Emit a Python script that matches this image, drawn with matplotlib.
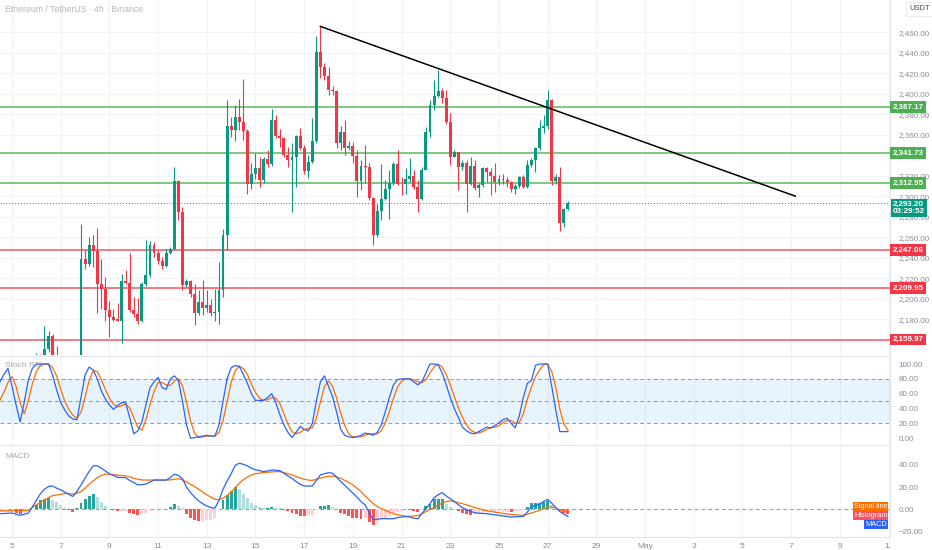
import numpy as np
import matplotlib
matplotlib.use('Agg')
import matplotlib.pyplot as plt
from matplotlib.transforms import Bbox, blended_transform_factory

plt.rcParams['font.family'] = ['Liberation Sans', 'DejaVu Sans']

# 4h candles ETH/USDT, first candle on day 4.5 (4 Apr 12:00)
first_day = 4.5

opens = [2118, 2125, 2120, 2128, 2122, 2116, 2125, 2134, 2128, 2136,
         2145, 2140, 2151.1, 2163.9, 2136, 2130, 2124, 2131, 2127, 2134,
         2140, 2238.9, 2234.0, 2252.6, 2246.4, 2214.4, 2208.9, 2189.0, 2181.8, 2180.0,
         2178.5, 2216.7, 2215.0, 2189.0, 2185.1, 2177.9, 2214.4, 2223.3, 2252.6, 2244.8,
         2236.3, 2231.7, 2244.8, 2248.7, 2314.6, 2284.6, 2212.8, 2216.7, 2204.0, 2185.7,
         2196.5, 2191.0, 2194.0, 2185.7, 2186.7, 2207.9, 2261.8, 2368.5, 2364.5, 2376.9,
         2372.7, 2363.9, 2312.3, 2322.1, 2327.0, 2315.6, 2336.2, 2331.3, 2374.0, 2358.7,
         2356.4, 2340.1, 2335.2, 2338.4, 2358.7, 2346.6, 2324.7, 2333.5, 2354.1, 2441.2,
         2426.5, 2417.4, 2403.7, 2403.0, 2351.5, 2362.9, 2347.2, 2349.2, 2339.1, 2314.6,
         2329.6, 2328.6, 2298.3, 2261.8, 2285.6, 2297.6, 2307.4, 2313.0, 2330.9, 2312.3,
         2311.4, 2317.2, 2319.8, 2309.1, 2297.0, 2326.0, 2362.3, 2389.0, 2397.8, 2402.7,
         2396.2, 2372.7, 2338.4, 2342.7, 2328.6, 2332.6, 2311.7, 2329.6, 2308.4, 2310.7,
         2327.0, 2323.1, 2319.8, 2313.9, 2317.2, 2315.6, 2313.9, 2307.4, 2309.7, 2318.2,
         2309.1, 2330.3, 2335.2, 2346.6, 2366.2, 2368.5, 2393.9, 2314.6, 2318.9, 2273.8,
         2287.9]
highs = [2130, 2136, 2132, 2140, 2131, 2128, 2138, 2141, 2140, 2147,
         2146, 2173.6, 2168.8, 2165.5, 2154, 2141, 2135, 2142, 2138, 2143,
         2272.5, 2247.1, 2260.1, 2261.8, 2268.9, 2238.9, 2221.0, 2198.0, 2190.0, 2196.0,
         2224.0, 2228.0, 2244.0, 2202.0, 2201.0, 2216.0, 2256.9, 2256.0, 2255.0, 2247.1,
         2240.5, 2248.7, 2250.5, 2328.6, 2315.6, 2289.5, 2219.3, 2218.3, 2214.4, 2207.9,
         2217.7, 2207.9, 2200.0, 2209.0, 2235.7, 2268.3, 2393.9, 2376.9, 2389.0, 2394.9,
         2414.5, 2366.0, 2331.9, 2341.7, 2338.4, 2338.4, 2345.0, 2385.0, 2379.0, 2366.0,
         2358.0, 2348.0, 2351.8, 2360.0, 2366.5, 2350.0, 2340.0, 2376.0, 2455.9, 2465.7,
         2429.8, 2426.5, 2408.0, 2403.7, 2368.5, 2374.3, 2354.0, 2353.0, 2345.0, 2335.0,
         2349.9, 2331.9, 2299.3, 2292.7, 2331.0, 2315.6, 2325.4, 2332.9, 2345.0, 2318.8,
         2327.0, 2336.8, 2326.0, 2315.6, 2328.6, 2367.8, 2393.9, 2413.5, 2423.3, 2405.3,
         2403.7, 2380.9, 2345.0, 2343.3, 2335.2, 2335.2, 2338.4, 2335.2, 2313.0, 2328.6,
         2328.6, 2327.0, 2331.9, 2321.0, 2322.0, 2319.0, 2315.0, 2312.0, 2319.5, 2321.0,
         2335.2, 2337.5, 2348.2, 2374.3, 2379.2, 2403.7, 2394.5, 2322.1, 2328.6, 2288.0,
         2295.5]
lows = [2108, 2115, 2105, 2118, 2110, 2108, 2120, 2122, 2124, 2130,
        2128, 2136, 2148, 2128, 2122, 2118, 2112, 2122, 2120, 2128,
        2136, 2229.1, 2232.0, 2230.7, 2186.0, 2190.0, 2178.5, 2162.0, 2178.5, 2178.0,
        2157.0, 2214.0, 2187.0, 2182.0, 2175.3, 2177.0, 2212.0, 2221.0, 2240.5, 2234.0,
        2229.0, 2230.7, 2243.5, 2247.0, 2276.4, 2207.9, 2211.0, 2201.4, 2174.6, 2183.5,
        2183.5, 2187.0, 2182.5, 2178.5, 2175.3, 2201.4, 2247.0, 2358.0, 2354.0, 2364.5,
        2354.7, 2302.5, 2307.4, 2317.2, 2309.1, 2313.0, 2328.0, 2329.0, 2357.0, 2348.0,
        2338.0, 2328.0, 2284.6, 2309.0, 2345.0, 2322.0, 2318.0, 2332.0, 2351.5, 2415.0,
        2413.5, 2398.8, 2399.0, 2346.6, 2345.0, 2340.1, 2345.0, 2331.9, 2299.0, 2305.8,
        2313.0, 2296.0, 2252.0, 2260.1, 2276.4, 2296.0, 2278.0, 2310.7, 2310.7, 2300.9,
        2302.5, 2314.0, 2307.4, 2284.6, 2296.0, 2325.4, 2358.0, 2384.0, 2396.5, 2390.7,
        2370.4, 2330.2, 2338.0, 2305.8, 2325.4, 2284.6, 2310.7, 2305.8, 2299.3, 2309.1,
        2314.0, 2300.9, 2304.2, 2311.0, 2312.0, 2309.0, 2304.0, 2302.0, 2308.0, 2308.0,
        2308.4, 2328.6, 2323.8, 2345.0, 2361.3, 2366.0, 2310.7, 2312.3, 2266.0, 2269.7,
        2286.9]
closes = [2125, 2120, 2128, 2122, 2116, 2125, 2134, 2128, 2136, 2145,
          2140, 2151.1, 2163.9, 2136, 2130, 2124, 2131, 2127, 2134, 2140,
          2238.9, 2234.0, 2252.6, 2246.4, 2214.4, 2208.9, 2189.0, 2181.8, 2179.5, 2178.5,
          2216.7, 2215.0, 2189.0, 2185.1, 2177.9, 2214.4, 2223.3, 2252.6, 2244.8, 2236.3,
          2231.7, 2244.8, 2248.7, 2314.6, 2284.6, 2212.8, 2216.7, 2204.0, 2185.7, 2196.5,
          2191.0, 2194.0, 2185.7, 2186.7, 2207.9, 2261.8, 2368.5, 2364.5, 2376.9, 2372.7,
          2363.9, 2312.3, 2322.1, 2327.0, 2315.6, 2336.2, 2331.3, 2374.0, 2358.7, 2356.4,
          2340.1, 2335.2, 2338.4, 2358.7, 2346.6, 2324.7, 2333.5, 2354.1, 2441.2, 2426.5,
          2417.4, 2403.7, 2403.0, 2351.5, 2362.9, 2347.2, 2349.2, 2339.1, 2314.6, 2329.6,
          2328.6, 2298.3, 2261.8, 2285.6, 2297.6, 2307.4, 2313.0, 2330.9, 2312.3, 2311.4,
          2317.2, 2319.8, 2309.1, 2297.0, 2326.0, 2362.3, 2389.0, 2397.8, 2402.7, 2396.2,
          2372.7, 2338.4, 2342.7, 2328.6, 2332.6, 2311.7, 2329.6, 2308.4, 2310.7, 2327.0,
          2323.1, 2319.8, 2313.9, 2317.2, 2315.6, 2313.9, 2307.4, 2309.7, 2318.2, 2309.1,
          2330.3, 2335.2, 2346.6, 2366.2, 2368.5, 2393.9, 2314.6, 2318.9, 2273.8, 2287.9,
          2293.2]

# Stoch RSI (K azul, D naranja)
stoch_k = [76, 86, 94, 70, 45, 22, 48, 78, 94, 100,
           100, 100, 100, 85, 65, 48, 38, 30, 26, 25,
           55, 85, 96, 92, 80, 64, 53, 45, 39, 44,
           48, 48, 28, 6, 10, 22, 45, 68, 76, 82,
           68, 66, 80, 84, 78, 50, 18, 0, 1, 2,
           3, 4, 3, 3, 18, 50, 80, 95, 98, 97,
           86, 74, 60, 51, 51, 51, 55, 60, 48, 32,
           18, 8, 1, 8, 16, 12, 10, 20, 50, 76,
           84, 70, 56, 35, 12, 4, 2, 1, 2, 4,
           7, 6, 4, 8, 18, 36, 55, 72, 79, 80,
           80, 80, 76, 72, 76, 88, 100, 100, 99, 88,
           72, 55, 40, 28, 15, 10, 7, 6, 9, 12,
           15, 14, 17, 21, 25, 27, 20, 14, 30, 55,
           74, 78, 98, 100, 100, 100, 70, 38, 9, 9,
           9]
stoch_d = [51, 62, 75, 83, 70, 48, 33, 50, 73, 90,
           98, 100, 100, 95, 84, 66, 50, 39, 31, 27,
           35, 55, 78, 91, 90, 79, 66, 54, 46, 42,
           44, 46, 41, 28, 15, 11, 25, 45, 63, 75,
           75, 72, 71, 77, 80, 71, 49, 23, 7, 1,
           2, 3, 3, 3, 8, 24, 49, 75, 91, 97,
           94, 86, 73, 62, 54, 51, 52, 55, 54, 47,
           33, 19, 9, 6, 8, 12, 13, 14, 27, 49,
           70, 77, 70, 54, 34, 17, 6, 2, 2, 2,
           4, 6, 6, 6, 10, 21, 36, 54, 69, 77,
           80, 80, 79, 76, 75, 79, 88, 96, 100, 96,
           86, 72, 56, 41, 28, 18, 11, 8, 7, 9,
           12, 14, 15, 17, 21, 24, 24, 20, 21, 33,
           53, 69, 83, 92, 99, 100, 90, 69, 39, 19,
           11]

# MACD y linea de senal
macd = [-4, -3.8, -3.6, -3.4, -4.5, -5.5, -4.5, -3.5, 2, 8,
        14, 18, 20.5, 21, 19, 17.5, 15.5, 13.5, 11.5, 16,
        21.8, 28, 34, 39, 39.3, 37, 34.5, 32, 30.5, 28.8,
        28.6, 28.4, 26, 24, 22, 22.2, 22.7, 24.5, 26.3, 26.3,
        26.3, 26.3, 28.5, 31.5, 30.5, 27.5, 20, 15, 11, 7.5,
        5, 3, 1.5, 1, 8, 18, 25.5, 32, 39.5, 41.5,
        40.5, 39, 37, 35.5, 34.8, 34, 34.5, 35.3, 35.2, 34.8,
        32.5, 30, 27.8, 25, 22.5, 21, 20.9, 21, 26, 31,
        32, 33, 32.4, 29, 25, 21.5, 18, 14.5, 11, 7,
        4, -3, -9.5, -9, -8.5, -8.5, -8.5, -8.5, -7.5, -7,
        -6.5, -7, -8, -8.5, -4, 0.6, 5, 10.5, 13, 15,
        12, 9.5, 7, 4, 1.5, -0.5, -2, -3, -3.6, -3.8,
        -4, -4.5, -5, -5.5, -6, -6.5, -7, -6.8, -6.6, -6.4,
        -2.5, 2, 3.5, 4.5, 7, 9, 5.5, 1.5, -2, -4.5,
        -6.4]
signal = [-1.5, -1.4, -1.3, -1.2, -1.0, -0.9, -0.9, -0.9, 1.5, 4,
          6, 8.5, 10.5, 12.3, 12.8, 13.5, 14.2, 14, 13.7, 14.5,
          16, 19, 22.5, 25.5, 28.5, 30.5, 31.6, 31.6, 31.1, 30.8,
          30.4, 30, 29, 28, 27, 26.4, 26.3, 26.3, 26.3, 26.3,
          26.3, 26.3, 26.5, 27, 27.6, 26.5, 24.5, 22.5, 20.5, 18,
          15.5, 13, 11, 9, 8.5, 10, 12.3, 15.5, 19.5, 23.5,
          26.5, 29, 31, 32, 32.6, 33.1, 33.4, 33.7, 33.9, 33.9,
          33, 32, 31, 29.5, 28.2, 27, 26.3, 26, 27, 28,
          29, 29.6, 30, 29, 28, 26, 24, 22, 19, 16,
          12, 8.5, 5, 2.5, 0.5, -1, -2.5, -4, -5, -5.7,
          -6.3, -6.3, -6, -5.7, -4, -2, 0, 1.5, 3.5, 5.5,
          7, 7.5, 7, 6, 5, 4, 2.8, 1.5, 0.5, -0.5,
          -1.3, -2, -2.6, -3.2, -3.8, -4.3, -4.7, -5, -5.3, -5.5,
          -4.5, -3.3, -2, -1, 0.5, 2, 2.1, 1, -0.5, -1.5,
          -2.1]

green_levels = [2387.17, 2341.73, 2312.95]
red_levels = [2247.06, 2209.95, 2159.97]
trend_days = [17.667, 37.17]
trend_prices = [2465.7, 2300.0]

tick_days = [5, 7, 9, 11, 13, 15, 17, 19, 21, 23, 25, 27, 29, 31, 33, 35, 37, 39, 41]
tick_labels = ['5', '7', '9', '11', '13', '15', '17', '19', '21', '23', '25', '27',
               '29', 'May', '3', '5', '7', '9', '11']
# 2340 queda tapado por la etiqueta 2,341.73
price_ticks = [2180, 2200, 2220, 2240, 2260, 2280, 2300, 2320, 2360, 2380,
               2400, 2420, 2440, 2460]

GREEN = '#089981'
RED = '#f23645'
GRID = '#f2f3f6'
TXT = '#8a8d96'
SEP = '#e0e3eb'

n = len(closes)
days = first_day + np.arange(n) / 6
o = np.array(opens)
h = np.array(highs)
l = np.array(lows)
c = np.array(closes)

fig = plt.figure(figsize=(9.32, 5.5), dpi=100)
W, H = 932, 550
right = 890 / W
ax = fig.add_axes([0, 1 - 355 / H, right, 355 / H])
ax_s = fig.add_axes([0, 1 - 444 / H, right, 88 / H])
ax_m = fig.add_axes([0, 1 - 537 / H, right, 92 / H])


def base_axes(a):
    a.set_xlim(4.507, 41.06)
    for s in ['left', 'top', 'bottom']:
        a.spines[s].set_visible(False)
    a.spines['right'].set_color(SEP)
    a.spines['right'].set_linewidth(0.8)
    a.yaxis.tick_right()
    a.tick_params(axis='y', length=0, pad=6, labelsize=5.8, labelcolor=TXT)
    a.tick_params(axis='x', length=0)
    for d in tick_days:
        a.axvline(d, color=GRID, lw=0.8, zorder=0)


# panel de precio
base_axes(ax)
ax.set_ylim(2144.9, 2491.5)
ax.set_yticks(price_ticks)
ax.set_yticklabels([f'{p:,.2f}' for p in price_ticks])
ax.set_xticks([])
for p in price_ticks:
    ax.axhline(p, color=GRID, lw=0.8, zorder=0)

colors = np.where(c >= o, GREEN, RED)
ax.vlines(days, l, h, colors=colors, lw=0.8, zorder=3)
ax.bar(days, np.maximum(np.abs(c - o), 0.8), bottom=np.minimum(o, c), width=0.12,
       color=colors, lw=0, zorder=4)

ax.axhline(closes[-1], color=GREEN, lw=0.7, ls=(0, (1, 2)), zorder=2)
for lv in green_levels:
    ax.axhline(lv, color='#5cb860', lw=1.1, zorder=2)
for lv in red_levels:
    ax.axhline(lv, color='#f2555f', lw=1.1, zorder=2)
ax.plot(trend_days, trend_prices, color='black', lw=1.1, zorder=5)

tr = blended_transform_factory(ax.transAxes, ax.transData)
for lv in green_levels:
    ax.text(1.003, lv, f'{lv:,.2f}', transform=tr, ha='left', va='center', fontsize=5.8,
            color='white', fontweight='bold',
            bbox=dict(boxstyle='square,pad=0.3', fc='#4caf50', ec='none'), zorder=10, clip_on=False)
for lv in red_levels:
    ax.text(1.003, lv, f'{lv:,.2f}', transform=tr, ha='left', va='center', fontsize=5.8,
            color='white', fontweight='bold',
            bbox=dict(boxstyle='square,pad=0.3', fc=RED, ec='none'), zorder=10, clip_on=False)
ax.annotate(f'{closes[-1]:,.2f}\n03:29:52', xy=(1.003, closes[-1]), xycoords=tr,
            xytext=(0, 1.6), textcoords='offset points', ha='left', va='top',
            fontsize=5.8, color='white', fontweight='bold', linespacing=1.05,
            bbox=dict(boxstyle='square,pad=0.25', fc=GREEN, ec='none'), zorder=10,
            annotation_clip=False)
ax.text(1.022, 0.985, 'USDT', transform=ax.transAxes, ha='left', va='top', fontsize=5.5,
        color='#50535e', bbox=dict(boxstyle='square,pad=0.5', fc='white', ec='#e6e8ee', lw=0.6))
ax.text(0.006, 0.985, 'Ethereum / TetherUS · 4h · Binance', transform=ax.transAxes,
        ha='left', va='top', fontsize=6.3, color='#b5b8c0')

# Stoch RSI
base_axes(ax_s)
ax_s.spines['top'].set_visible(True)
ax_s.spines['top'].set_color(SEP)
ax_s.spines['top'].set_linewidth(0.8)
ax_s.set_ylim(-7.7, 110.8)
ax_s.set_yticks([0, 20, 40, 60, 80, 100])
ax_s.set_yticklabels(['0.00', '20.00', '40.00', '60.00', '80.00', '100.00'])
ax_s.set_xticks([])
ax_s.axhspan(20, 80, color='#2196f3', alpha=0.1, lw=0, zorder=1)
for lv in [20, 50, 80]:
    ax_s.axhline(lv, color='#9598a1', lw=0.7, ls=(0, (4, 3)), zorder=2)
ax_s.plot(days, stoch_k, color='#2962ff', lw=0.9, zorder=4)
ax_s.plot(days, stoch_d, color='#ff6d00', lw=0.9, zorder=3)
ax_s.text(0.006, 0.93, 'Stoch RSI', transform=ax_s.transAxes, ha='left', va='top',
          fontsize=6, color='#a3a6af')

# MACD
base_axes(ax_m)
ax_m.spines['top'].set_visible(True)
ax_m.spines['top'].set_color(SEP)
ax_m.spines['top'].set_linewidth(0.8)
ax_m.spines['bottom'].set_visible(True)
ax_m.spines['bottom'].set_color(SEP)
ax_m.set_ylim(-25, 57.9)
ax_m.set_yticks([-20, 0, 20, 40])
ax_m.set_yticklabels(['\u221220.00', '0.00', '20.00', '40.00'])
ax_m.axhline(0, color='#9598a1', lw=0.7, ls=(0, (4, 3)), zorder=2)

m = np.array(macd)
sg = np.array(signal)
hist = m - sg
prev = np.r_[hist[0], hist[:-1]]
hcol = np.where(hist >= 0,
                np.where(hist >= prev, '#26a69a', '#b2dfdb'),
                np.where(hist < prev, '#ff5252', '#ffcdd2'))
ax_m.bar(days, hist, width=0.12, color=hcol, lw=0, zorder=3)
ax_m.plot(days, macd, color='#2962ff', lw=0.9, zorder=5)
ax_m.plot(days, signal, color='#ff6d00', lw=0.9, zorder=4)
ax_m.text(0.006, 0.91, 'MACD', transform=ax_m.transAxes, ha='left', va='top',
          fontsize=6, color='#a3a6af')

for txt, col, yy in [('Signal line', '#ff6d00', 0.33), ('Histogram', '#f7525f', 0.235),
                     ('MACD', '#2962ff', 0.14)]:
    ax_m.text(0.997, yy, txt, transform=ax_m.transAxes, ha='right', va='center',
              fontsize=5.3, color='white',
              bbox=dict(boxstyle='square,pad=0.15', fc=col, ec='none'), zorder=10)

ax_m.set_xticks(tick_days)
ax_m.set_xticklabels(tick_labels)
ax_m.tick_params(axis='x', labelsize=6, labelcolor=TXT, pad=4)
clip = Bbox.from_extents(0, 0, 890, H)
for lab in ax_m.get_xticklabels():
    lab.set_clip_box(clip)
    lab.set_clip_on(True)

fig.savefig('out.png', dpi=100, facecolor='white')
